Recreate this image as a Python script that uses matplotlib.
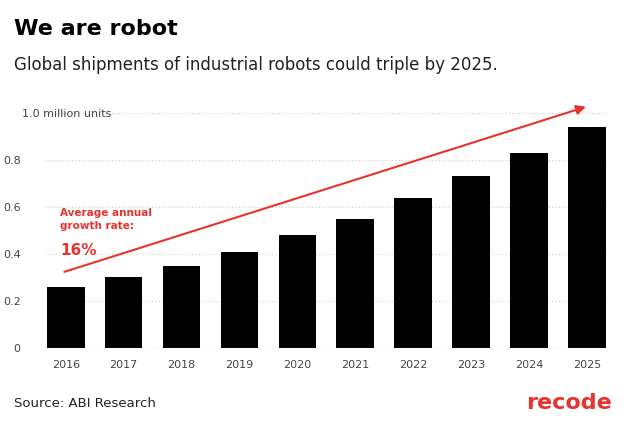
import matplotlib
matplotlib.use("Agg")
import matplotlib.pyplot as plt

years = ["2016","2017","2018","2019","2020","2021","2022","2023","2024","2025"]
values = [0.26,0.30,0.35,0.41,0.48,0.55,0.64,0.73,0.83,0.94]
yticks = [0,0.2,0.4,0.6,0.8,1.0]
ytick_labels = ["0","0.2","0.4","0.6","0.8","1.0 million units"]

fig = plt.figure(figsize=(6.41,4.35), dpi=100)
fig.patch.set_facecolor("white")
ax = fig.add_axes([0.07,0.198,0.88,0.54])
x = list(range(len(years)))
ax.bar(x, values, width=0.65, color="black", zorder=3)
ax.set_xlim(-0.36, 9.38)
ax.set_ylim(0, 1.0)
ax.set_yticks(yticks)
ax.set_yticklabels([])
for t, l in zip(yticks, ytick_labels):
    ax.text(-0.78 if t < 1 else -0.75, t, l, ha="right" if t < 1 else "left", va="center",
            fontsize=8, color="#444444", transform=ax.transData, clip_on=False)
ax.set_xticks(x)
ax.set_xticklabels(years, fontsize=8, color="#444444")
ax.tick_params(length=0, pad=8)
ax.grid(axis="y", linestyle=(0,(1,2)), color="#cccccc", zorder=0)
for s in ax.spines.values():
    s.set_visible(False)
ax.axhline(0, color="#999999", lw=0.8, zorder=4)
ax.annotate("", xy=(9.03,1.03), xytext=(-0.07,0.32),
            arrowprops=dict(arrowstyle="-|>", color="#e8322e", lw=1.5, mutation_scale=14),
            annotation_clip=False)
ax.text(-0.1, 0.60, "Average annual\ngrowth rate:", color="#e8322e", fontsize=7.5,
        fontweight="bold", va="top", linespacing=1.4)
ax.text(-0.1, 0.45, "16%", color="#e8322e", fontsize=11, fontweight="bold", va="top")

fig.text(0.022, 0.92, "We are robot", fontsize=16, fontweight="bold", color="black")
fig.text(0.022, 0.84, "Global shipments of industrial robots could triple by 2025.",
         fontsize=12, color="#222222")
fig.text(0.022, 0.065, "Source: ABI Research", fontsize=9.5, color="#222222")
fig.text(0.955, 0.06, "recode", fontsize=16, fontweight="bold", color="#e8322e", ha="right")
fig.savefig("out.png", dpi=100)
